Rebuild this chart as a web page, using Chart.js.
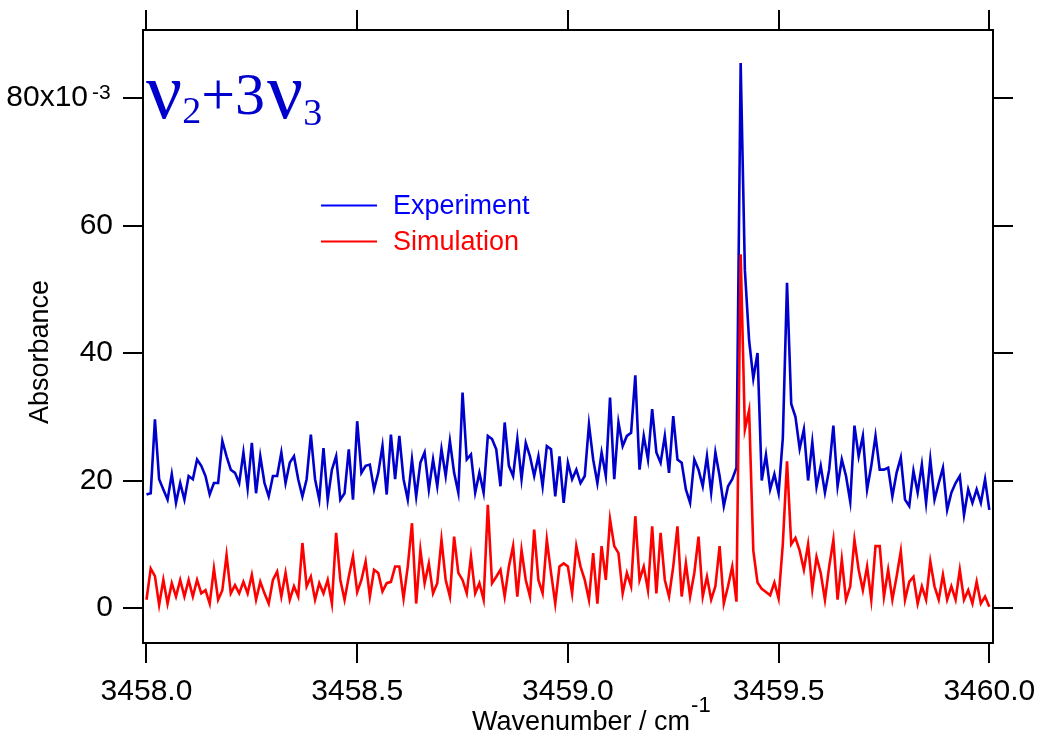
<!DOCTYPE html>
<html lang="en">
<head>
<meta charset="UTF-8">
<title>ν2+3ν3 absorbance</title>
<script src="https://cdn.jsdelivr.net/npm/chart.js@4"></script>
<style>
  html, body { margin: 0; padding: 0; background: #fff; }
  canvas { display: block; }
</style>
</head>
<body>
<canvas id="spec" width="1043" height="736"></canvas>
<script>
// wavenumber grid, cm-1
const xStart = 3458.0;
const xStep = 0.01;
const xTicks = [3458.0, 3458.5, 3459.0, 3459.5, 3460.0];
const yTicks = [0, 20, 40, 60, 80];

// absorbance, in units of 10^-3
const experiment = [
  17.8, 18.0, 29.6, 20.2, 18.6, 17.0, 21.0, 16.5, 19.6, 17.0,
  20.7, 20.2, 23.3, 22.3, 20.7, 17.8, 19.6, 19.6, 26.2, 23.8,
  21.7, 21.2, 19.6, 24.4, 18.8, 25.9, 18.0, 23.8, 19.6, 17.5,
  20.7, 20.7, 24.4, 19.6, 22.8, 23.8, 20.2, 17.5, 20.2, 27.2,
  20.2, 17.0, 25.1, 17.0, 21.7, 23.8, 17.0, 18.0, 24.9, 17.0,
  29.3, 21.2, 22.3, 22.5, 18.6, 21.2, 25.4, 17.8, 27.2, 20.2,
  27.0, 20.2, 17.0, 23.3, 17.5, 22.8, 24.4, 18.6, 23.3, 19.1,
  24.9, 20.7, 26.2, 21.2, 18.1, 33.8, 23.3, 24.1, 18.1, 21.2,
  18.1, 27.0, 26.5, 24.9, 19.1, 29.1, 22.3, 20.7, 26.5, 20.2,
  25.9, 23.8, 20.7, 23.8, 19.1, 25.4, 24.9, 17.5, 23.8, 16.5,
  22.8, 20.2, 21.7, 19.6, 20.7, 28.8, 23.3, 19.6, 24.4, 20.7,
  33.0, 20.2, 29.1, 25.4, 27.0, 27.5, 36.5, 21.7, 27.0, 23.3,
  31.2, 24.4, 22.8, 27.0, 21.2, 30.1, 23.3, 22.8, 18.6, 16.5,
  23.3, 21.7, 19.1, 23.8, 18.1, 24.4, 20.7, 16.0, 19.1, 20.2,
  22.0, 85.5, 53.0, 42.0, 36.0, 40.0, 20.0, 24.0, 18.6, 21.0,
  18.0, 26.6, 51.0, 32.0, 30.0, 25.0, 28.0, 20.0, 26.0, 19.0,
  22.3, 18.1, 21.7, 28.6, 19.1, 23.3, 20.7, 16.7, 28.6, 23.8,
  27.0, 18.6, 22.3, 27.0, 21.7, 21.7, 22.0, 17.5, 21.2, 23.6,
  17.0, 16.0, 21.5, 18.1, 22.5, 16.5, 23.3, 17.0, 19.6, 22.0,
  15.4, 18.1, 19.6, 20.7, 14.6, 18.6, 16.5, 18.6, 16.5, 20.2,
  15.4
];
const simulation = [
  1.3, 6.2, 5.0, 0.5, 4.4, 0.7, 3.9, 1.8, 4.4, 1.8,
  4.4, 1.8, 4.4, 2.3, 2.8, 0.7, 6.2, 1.3, 2.8, 8.3,
  2.3, 3.6, 2.3, 4.1, 2.3, 5.2, 1.3, 4.1, 2.3, 0.7,
  4.4, 5.7, 1.8, 5.5, 1.3, 3.4, 1.8, 10.2, 3.4, 4.9,
  1.3, 3.9, 2.3, 4.4, 0.7, 11.8, 4.4, 1.3, 4.9, 8.1,
  2.5, 4.4, 7.3, 1.8, 6.0, 5.5, 2.6, 3.9, 4.1, 6.5,
  6.5, 1.5, 6.5, 13.3, 0.7, 9.1, 3.9, 7.0, 2.3, 3.9,
  10.7, 4.4, 1.8, 11.2, 5.5, 4.4, 2.3, 8.1, 2.3, 3.9,
  1.3, 16.2, 3.9, 4.9, 6.0, 1.8, 6.5, 9.7, 1.8, 9.1,
  4.4, 1.8, 12.3, 4.4, 2.3, 10.7, 5.5, 0.7, 6.5, 7.0,
  6.5, 2.3, 9.7, 6.5, 4.4, 1.3, 8.6, 0.7, 9.7, 4.4,
  13.9, 9.7, 8.6, 2.3, 5.5, 3.4, 14.4, 4.4, 6.5, 2.8,
  12.8, 2.3, 11.8, 4.4, 1.8, 6.5, 12.8, 1.8, 7.0, 1.8,
  5.5, 11.2, 1.8, 4.9, 1.3, 3.4, 9.7, 0.7, 3.4, 6.5,
  1.0, 55.5, 28.0, 31.0, 9.0, 4.0, 3.0, 2.5, 2.0, 4.0,
  1.5, 10.0, 23.0, 10.0, 11.0, 9.0, 6.0, 10.0, 3.0, 8.0,
  5.5, 1.3, 6.5, 10.7, 1.3, 7.6, 1.3, 3.4, 10.7, 6.0,
  2.8, 6.5, 1.3, 9.7, 9.7, 1.8, 6.0, 1.3, 4.9, 8.9,
  1.3, 4.1, 4.9, 0.7, 3.4, 1.3, 7.3, 3.4, 1.3, 5.2,
  1.3, 3.4, 1.3, 6.0, 1.3, 2.8, 0.7, 4.1, 0.7, 1.8,
  0.2
];

const wavenumber = experiment.map((_, i) => +(xStart + i * xStep).toFixed(3));
const toPoints = ys => ys.map((y, i) => ({ x: wavenumber[i], y: y }));

const X_MIN = 3457.9917, X_MAX = 3460.0088;
const Y_MIN = -5.49, Y_MAX = 90.67;
const SANS = "'Liberation Sans', Arial, sans-serif";
const SERIF = "'Liberation Serif', 'DejaVu Serif', serif";

const frame = { display: true, color: '#000', width: 2 };
const tickMarks = {
  display: true, drawOnChartArea: false, drawTicks: true,
  tickLength: 20, color: '#000', lineWidth: 2
};
const setX = s => { s.ticks = xTicks.map(v => ({ value: v })); };
const setY = s => { s.ticks = yTicks.map(v => ({ value: v })); };

// title, legend, axis titles and superscripts
const annotations = {
  id: 'annotations',
  afterDraw(chart) {
    const c = chart.ctx;
    c.save();
    c.textBaseline = 'alphabetic';
    c.textAlign = 'left';

    // ν2+3ν3
    c.fillStyle = '#0000cc';
    let x = 146;
    const run = (txt, size, base) => {
      c.font = size + 'px ' + SERIF;
      c.fillText(txt, x, base);
      x += c.measureText(txt).width;
    };
    run('ν', 80, 118);
    run('2', 38, 123);
    run('+3', 60, 114);
    x += 2;
    run('ν', 80, 118);
    run('3', 38, 125);

    // legend
    c.lineWidth = 2;
    c.strokeStyle = '#0000ff';
    c.beginPath(); c.moveTo(321, 205.5); c.lineTo(377, 205.5); c.stroke();
    c.strokeStyle = '#ff0000';
    c.beginPath(); c.moveTo(321, 241.5); c.lineTo(377, 241.5); c.stroke();
    c.font = '27px ' + SANS;
    c.fillStyle = '#0000ff';
    c.fillText('Experiment', 393, 214);
    c.fillStyle = '#ff0000';
    c.fillText('Simulation', 393, 250);

    // axis titles
    c.fillStyle = '#000';
    c.font = '27px ' + SANS;
    c.fillText('Wavenumber / cm', 472, 730);
    const w = c.measureText('Wavenumber / cm').width;
    c.font = '22px ' + SANS;
    c.fillText('-1', 472 + w + 1, 712);

    c.font = '21px ' + SANS;
    c.fillText('-3', 92, 99);

    c.save();
    c.translate(41, 352);
    c.rotate(-Math.PI / 2);
    c.textAlign = 'center';
    c.textBaseline = 'middle';
    c.font = '27px ' + SANS;
    c.fillText('Absorbance', 0, 0);
    c.restore();

    c.restore();
  }
};

new Chart(document.getElementById('spec'), {
  type: 'line',
  data: {
    datasets: [
      {
        label: 'Experiment',
        data: toPoints(experiment),
        borderColor: '#0000cc',
        borderWidth: 2.6,
        pointRadius: 0,
        tension: 0,
        fill: false,
        order: 1
      },
      {
        label: 'Simulation',
        data: toPoints(simulation),
        borderColor: '#ff0000',
        borderWidth: 2.6,
        pointRadius: 0,
        tension: 0,
        fill: false,
        order: 0
      }
    ]
  },
  options: {
    responsive: false,
    animation: false,
    layout: { padding: 0 },
    plugins: { legend: { display: false }, tooltip: { enabled: false } },
    scales: {
      x: {
        type: 'linear', position: 'bottom', min: X_MIN, max: X_MAX,
        border: frame, grid: tickMarks,
        ticks: {
          color: '#000', padding: 11, maxRotation: 0, autoSkip: false,
          font: { family: SANS, size: 30 },
          callback: v => v.toFixed(1)
        },
        afterBuildTicks: setX,
        // labels may hang past the frame; keep the frame where the side axes put it
        afterFit: s => { s.height = 93; s.paddingLeft = 0; s.paddingRight = 0; }
      },
      x2: {
        type: 'linear', position: 'top', min: X_MIN, max: X_MAX,
        border: frame, grid: tickMarks,
        ticks: { display: false },
        afterBuildTicks: setX,
        afterFit: s => { s.height = 30; s.paddingLeft = 0; s.paddingRight = 0; }
      },
      y: {
        type: 'linear', position: 'left', min: Y_MIN, max: Y_MAX,
        border: frame, grid: tickMarks,
        ticks: {
          color: '#000', padding: 10, autoSkip: false,
          font: { family: SANS, size: 30 },
          callback: v => v === 80 ? '80x10   ' : String(v)
        },
        afterBuildTicks: setY,
        afterFit: s => { s.width = 143; }
      },
      y2: {
        type: 'linear', position: 'right', min: Y_MIN, max: Y_MAX,
        border: frame, grid: tickMarks,
        ticks: { display: false },
        afterBuildTicks: setY,
        afterFit: s => { s.width = 50; }
      }
    }
  },
  plugins: [annotations]
});
</script>
</body>
</html>
